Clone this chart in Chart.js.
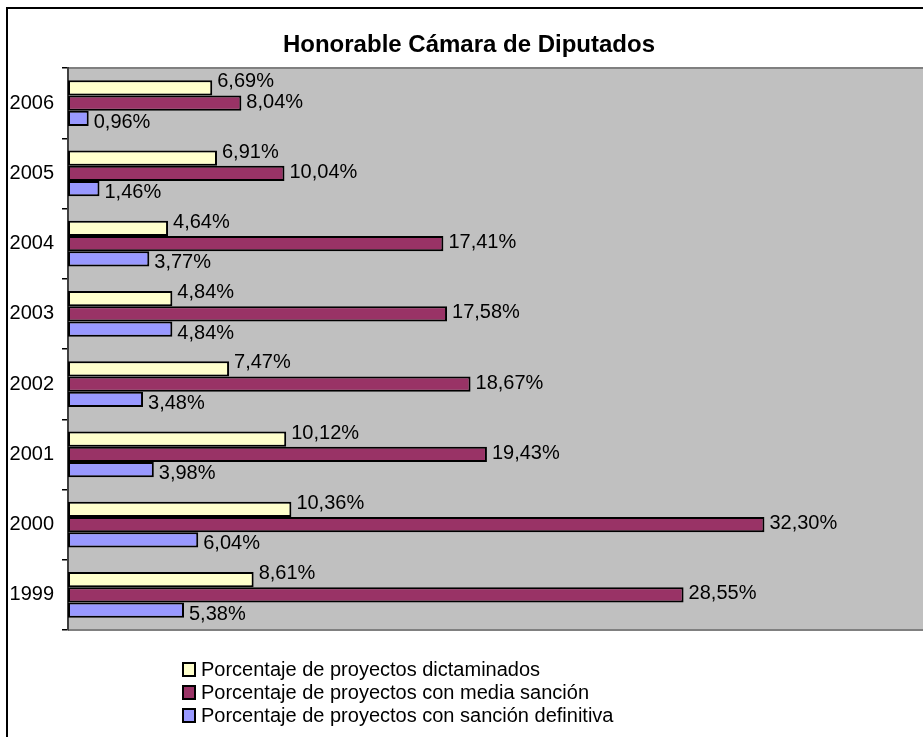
<!DOCTYPE html>
<html>
<head>
<meta charset="utf-8">
<title>Honorable Cámara de Diputados</title>
<script src="https://cdn.jsdelivr.net/npm/chart.js@4.4.1/dist/chart.umd.min.js"></script>
<style>
  html, body { margin: 0; padding: 0; background: #fff; }
  #wrap { position: relative; width: 923px; height: 737px; overflow: hidden; }
  /* the original picture is cut on the right: the chart box runs a bit past it */
  #box { position: relative; width: 938px; height: 737px; }
</style>
</head>
<body>
<div id="wrap"><div id="box"><canvas id="chart"></canvas></div></div>
<script>
const years = ['2006', '2005', '2004', '2003', '2002', '2001', '2000', '1999'];
const dictaminados = [6.69, 6.91, 4.64, 4.84, 7.47, 10.12, 10.36, 8.61];
const mediaSancion = [8.04, 10.04, 17.41, 17.58, 18.67, 19.43, 32.30, 28.55];
const sancionDefinitiva = [0.96, 1.46, 3.77, 4.84, 3.48, 3.98, 6.04, 5.38];
const seriesNames = [
  'Porcentaje de proyectos dictaminados',
  'Porcentaje de proyectos con media sanción',
  'Porcentaje de proyectos con sanción definitiva'
];
const xMax = 40.35;

const FONT = "'Liberation Sans', Arial, sans-serif";

// gray plot area, outer frame
const backgroundPlugin = {
  id: 'background',
  beforeDraw(chart) {
    const { ctx, chartArea: a } = chart;
    ctx.save();
    ctx.fillStyle = '#fff';
    ctx.fillRect(0, 0, chart.width, chart.height);
    ctx.fillStyle = '#C0C0C0';
    ctx.fillRect(a.left, a.top, a.right - a.left, a.bottom - a.top);
    ctx.strokeStyle = '#808080';
    ctx.lineWidth = 2;
    ctx.beginPath();
    ctx.moveTo(a.left, a.top);
    ctx.lineTo(a.right + 2, a.top);
    ctx.moveTo(a.left, a.bottom);
    ctx.lineTo(a.right + 2, a.bottom);
    ctx.stroke();
    ctx.strokeStyle = '#000';
    ctx.lineWidth = 2;
    ctx.strokeRect(7, 8, chart.width + 20, chart.height + 20);
    ctx.restore();
  }
};

// value labels at the end of each bar
const labelShift = [-6, -1, 4];
const valueLabelsPlugin = {
  id: 'valueLabels',
  afterDatasetsDraw(chart) {
    const { ctx } = chart;
    ctx.save();
    ctx.font = '20px ' + FONT;
    ctx.fillStyle = '#000';
    ctx.textAlign = 'left';
    ctx.textBaseline = 'middle';
    chart.data.datasets.forEach((ds, i) => {
      chart.getDatasetMeta(i).data.forEach((bar, j) => {
        const txt = ds.data[j].toFixed(2).replace('.', ',') + '%';
        ctx.fillText(txt, bar.x + 5, bar.y + labelShift[i]);
      });
    });
    ctx.restore();
  }
};

// legend stacked in the bottom area
const stackedLegendPlugin = {
  id: 'stackedLegend',
  afterDraw(chart) {
    const { ctx } = chart;
    const rows = [669, 692, 715];
    ctx.save();
    ctx.font = '20px ' + FONT;
    ctx.textAlign = 'left';
    ctx.textBaseline = 'middle';
    chart.data.datasets.forEach((ds, i) => {
      const y = rows[i];
      ctx.fillStyle = ds.backgroundColor;
      ctx.fillRect(183, y - 6, 12, 13);
      ctx.strokeStyle = '#000';
      ctx.lineWidth = 2;
      ctx.strokeRect(183, y - 6, 12, 13);
      ctx.fillStyle = '#000';
      ctx.fillText(ds.label, 201, y + 1);
    });
    ctx.restore();
  }
};

const colors = ['#FFFFCC', '#993366', '#9999FF'];
const values = [dictaminados, mediaSancion, sancionDefinitiva];

new Chart(document.getElementById('chart'), {
  type: 'bar',
  data: {
    labels: years,
    datasets: values.map((v, i) => ({
      label: seriesNames[i],
      data: v,
      backgroundColor: colors[i],
      borderColor: '#000',
      borderWidth: 2,
      borderSkipped: false,
      categoryPercentage: 0.65,
      barPercentage: 1
    }))
  },
  options: {
    indexAxis: 'y',
    responsive: true,
    maintainAspectRatio: false,
    animation: false,
    layout: {
      padding: { top: 0, left: 0, right: 0, bottom: 107 }
    },
    plugins: {
      legend: { display: false },
      tooltip: { enabled: false },
      title: {
        display: true,
        text: 'Honorable Cámara de Diputados',
        color: '#000',
        font: { family: FONT, size: 24, weight: 'bold', lineHeight: 1.2 },
        padding: { top: 30.6, bottom: 8.6 }
      }
    },
    scales: {
      x: {
        display: false,
        min: 0,
        max: xMax
      },
      y: {
        offset: true,
        afterFit(scale) { scale.width = 68; },
        grid: {
          offset: true,
          drawOnChartArea: false,
          tickLength: 6,
          color: '#000',
          lineWidth: 1.5
        },
        border: { color: '#404040', width: 2 },
        ticks: {
          color: '#000',
          padding: 8,
          font: { family: FONT, size: 20 }
        }
      }
    }
  },
  plugins: [backgroundPlugin, valueLabelsPlugin, stackedLegendPlugin]
});
</script>
</body>
</html>
